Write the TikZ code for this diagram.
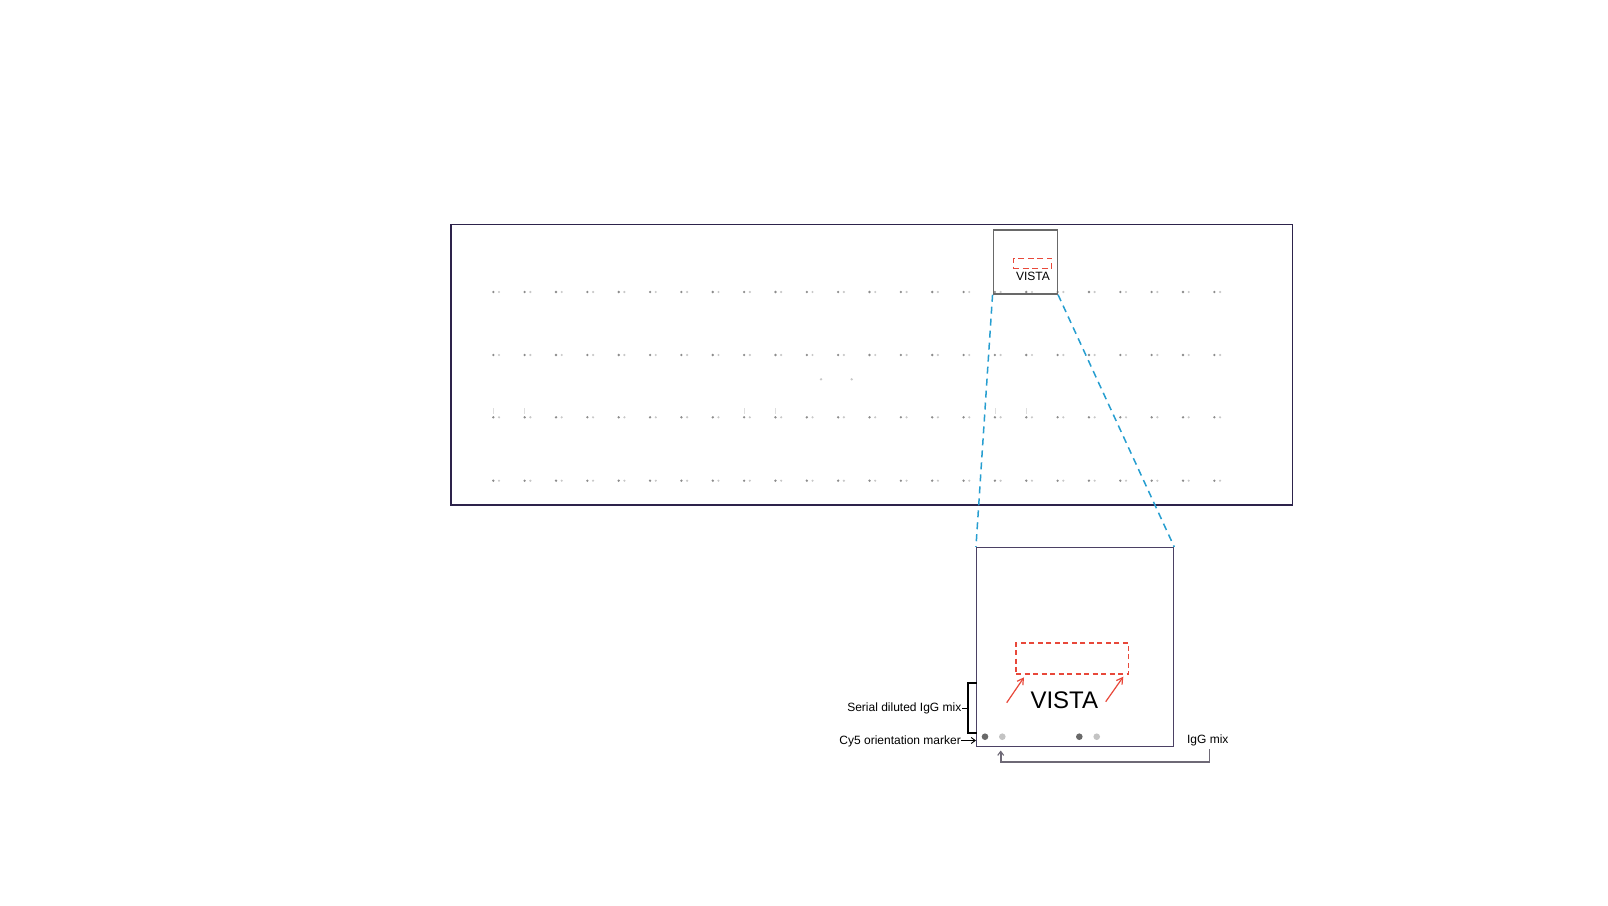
\documentclass[tikz,border=0pt]{standalone}
\usepackage{fontspec}
\setmainfont{Liberation Sans}
\usetikzlibrary{arrows.meta}
\definecolor{framec}{RGB}{45,35,75}
\definecolor{boxc}{RGB}{75,65,100}
\definecolor{sboxc}{RGB}{105,105,105}
\definecolor{redc}{RGB}{232,72,58}
\definecolor{bluec}{RGB}{38,158,208}
\definecolor{dotdark}{RGB}{140,140,140}
\definecolor{dotlight}{RGB}{200,200,200}
\definecolor{tickc}{RGB}{222,222,222}
\definecolor{spotdark}{RGB}{105,105,105}
\definecolor{spotlight}{RGB}{195,195,195}
\definecolor{linkc}{RGB}{110,105,118}
\tikzset{
  frame/.style={draw=framec, line width=1.3pt, minimum width=841.5pt, minimum height=280.5pt, inner sep=0pt},
  smallbox/.style={draw=sboxc, line width=1.5pt, minimum width=64pt, minimum height=64pt, inner sep=0pt},
  zoombox/.style={draw=boxc, line width=1.5pt, minimum width=196.8pt, minimum height=199pt, inner sep=0pt},
  reddash/.style={draw=redc, dash pattern=on 5pt off 3.5pt, line width=1.1pt, inner sep=0pt},
  bluedash/.style={draw=bluec, dash pattern=on 7pt off 5pt, line width=1.5pt},
  lbl/.style={font=\fontsize{12}{14}\selectfont, inner sep=0pt, text=black},
  redarrow/.style={draw=redc, line width=1.2pt, -{Straight Barb[length=6pt,width=7pt,line width=1.2pt]}},
  thinarrow/.style={draw=black, line width=0.9pt, -{Straight Barb[length=4pt,width=6pt,line width=0.9pt]}},
}
\begin{document}
\begin{tikzpicture}[x=1pt,y=-1pt]
\useasboundingbox[fill=white] (0,0) rectangle (1608,905);

% slide frame
\node[frame] (slide) at (871.75,364.75) {};

% dot grid
\foreach \r in {292,355,417.3,480.7}{
  \foreach \c in {0,...,23}{
    \fill[dotdark] ({493.3+31.35*\c},\r) circle (1.3pt);
    \fill[dotlight] ({499+31.35*\c},\r) circle (1.2pt);
  }
}
\foreach \c in {0,1,8,9,16,17}{
  \draw[tickc, line width=0.6pt] ({493.3+31.35*\c},408) -- ({493.3+31.35*\c},413.5);
}
\fill[dotlight] (821,379.3) circle (1.3pt);
\fill[dotlight] (851.7,379.3) circle (1.3pt);

% small selection box
\node[smallbox] (sbox) at (1025.3,262) {};
\node[reddash, line width=1.5pt, dash pattern=on 6pt off 3.5pt, minimum width=38.4pt, minimum height=10pt] (sred) at (1032.5,263.3) {};
\node[lbl, anchor=base] (svista) at (1033,280) {VISTA};

% zoomed box
\node[zoombox] (lbox) at (1075.1,647.2) {};
\node[reddash, minimum width=112.7pt, minimum height=31pt] (lred) at (1072.35,658.5) {};
\node[lbl, anchor=base, font=\fontsize{24}{28}\selectfont] (bvista) at (1064.3,708.3) {VISTA};

% zoom lines
\draw[bluedash] (sbox.south west) -- (lbox.north west);
\draw[bluedash] (sbox.south east) -- (lbox.north east);

% red arrows
\coordinate (ra1) at (1006.7,702.7);
\coordinate (rb1) at (1024,677.3);
\coordinate (ra2) at (1105.7,701.7);
\coordinate (rb2) at (1123.3,676.7);
\draw[redarrow] (ra1) -- (rb1);
\draw[redarrow] (ra2) -- (rb2);

% spots
\fill[spotdark] (985,736.7) circle (3.3pt);
\fill[spotlight] (1002.3,736.7) circle (3.3pt);
\fill[spotdark] (1079.3,736.7) circle (3.3pt);
\fill[spotlight] (1096.7,736.7) circle (3.3pt);

% labels left
\node[lbl, anchor=base east] (serial) at (961.5,711.7) {Serial diluted IgG mix};
\node[lbl, anchor=base east] (cy5) at (961,744) {Cy5 orientation marker};
\draw[black, line width=2pt] (976.7,682.7) -- (968.3,682.7) -- (968.3,732.7) -- (976.7,732.7);
\draw[black, line width=1.5pt] (968.3,708.3) -- (serial.east |- 0,708.3);
\draw[thinarrow] (cy5.east |- 0,740.5) -- (lbox.west |- 0,740.5);

% IgG mix
\node[lbl, anchor=base] (igg) at (1207.8,743.3) {IgG mix};
\coordinate (iggarrow) at (1000.7,750.5);
\draw[linkc, line width=1.6pt, -{Straight Barb[length=4pt,width=6pt,line width=1.1pt]}] (1209.3,749.3) -- (1209.3,761.7) -- (iggarrow |- 0,761.7) -- (iggarrow);
\end{tikzpicture}
\end{document}
